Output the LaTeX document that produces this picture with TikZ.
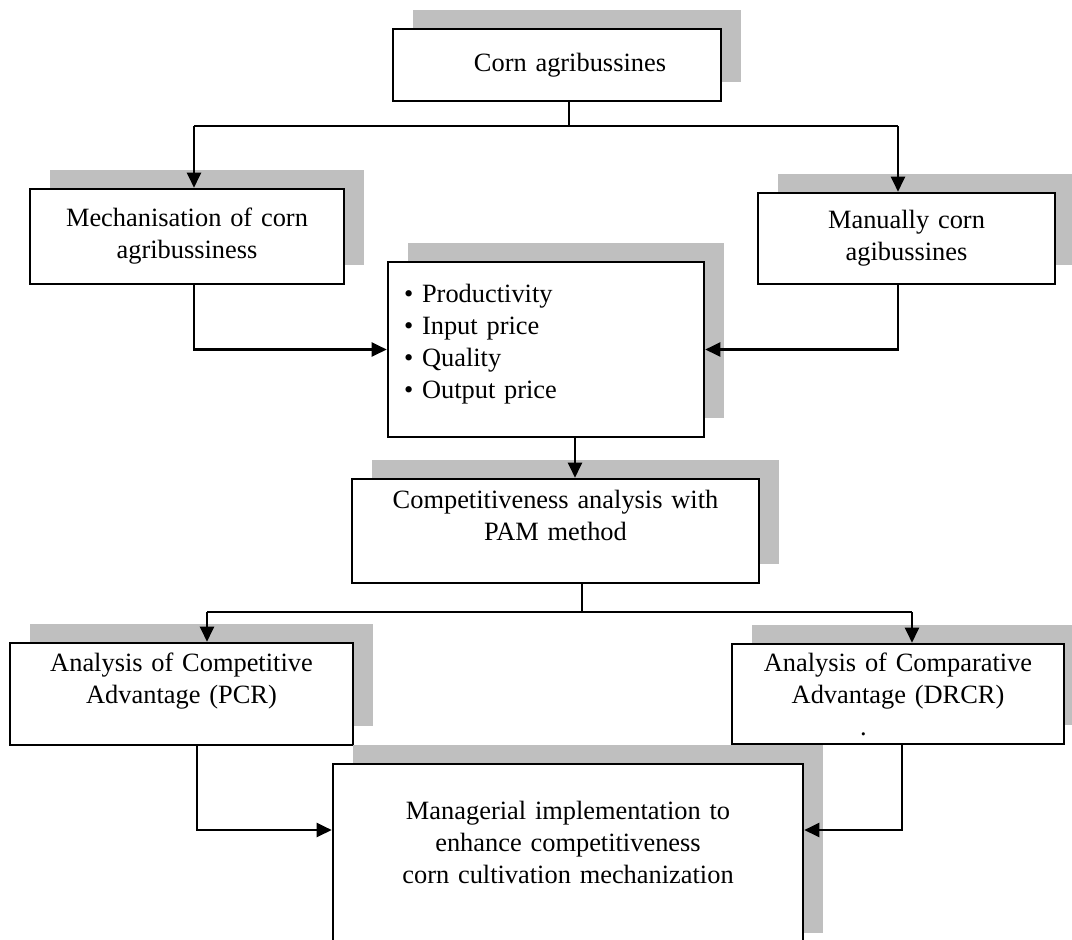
\documentclass[tikz,border=0pt]{standalone}
\usepackage{fontspec}
\setmainfont{Liberation Serif}
\usetikzlibrary{arrows.meta,shadows}

\begin{document}
\begin{tikzpicture}[x=0.5pt,y=-0.5pt,
  box/.style={draw,line width=1.3pt,fill=white,align=center,inner sep=0pt,
    general shadow={shadow xshift=10pt,shadow yshift=9.5pt,fill=black!25},
    font=\fontsize{13.2}{16}\selectfont},
  link/.style={line width=1.1pt},
  arr/.style={link,-{Triangle[length=7.5pt,width=7pt]}}]

\useasboundingbox (0,0) rectangle (1072,939);

% boxes
\node at (557,65) [box,minimum width=164pt,minimum height=36pt,text width=150pt] (corn) {\hspace*{13pt}Corn agribussines};
\node at (187,236.5) [box,minimum width=157pt,minimum height=47.5pt,text width=145pt] (mech) {Mechanisation of corn\\agribussiness};
\node at (906.5,238.5) [box,minimum width=148.5pt,minimum height=45.5pt,text width=138pt] (manual) {Manually corn\\agibussines};
\node at (546,349.5) [box,minimum width=158pt,minimum height=87.5pt,text width=142pt,align=left,text depth=56.6pt] (factors) {\textbullet\ Productivity\\\textbullet\ Input price\\\textbullet\ Quality\\\textbullet\ Output price};
\node at (555.5,531) [box,minimum width=203.5pt,minimum height=52pt,text width=190pt,text depth=32pt] (pam) {Competitiveness analysis with\\PAM method};
\node at (181.5,694) [box,minimum width=171.5pt,minimum height=51pt,text width=160pt,text depth=32pt] (pcr) {Analysis of Competitive\\Advantage (PCR)};
\node at (898,694) [box,minimum width=166pt,minimum height=50pt,text width=155pt] (drcr) {Analysis of Comparative\\Advantage (DRCR)\\\makebox[38pt][l]{.}};
\node at (568,858) [box,minimum width=235pt,minimum height=94pt,text width=220pt,text depth=48pt] (manage) {Managerial implementation to\\enhance competitiveness\\corn cultivation mechanization};

% first split
\coordinate (csplit) at (569,126);
\coordinate (cl) at (194,126);
\coordinate (cr) at (898,126);
\draw[link] (corn.south -| csplit) -- (csplit);
\draw[link] (cl) -- (cr);
\draw[arr] (cl) -- (cl |- mech.north);
\draw[arr] (cr) -- (cr |- manual.north);
\draw[arr] (cl |- mech.south) |- (factors.west);
\draw[arr] (cr |- manual.south) |- (factors.east);

% factors to PAM
\coordinate (fdown) at ([xshift=14.5pt]factors.south);
\draw[arr] (fdown) -- (fdown |- pam.north);

% second split
\coordinate (psplit) at (582,612);
\coordinate (bl) at (207,612);
\coordinate (br) at (912,612);
\draw[link] (pam.south -| psplit) -- (psplit);
\draw[link] (bl) -- (br);
\draw[arr] (bl) -- (bl |- pcr.north);
\draw[arr] (br) -- (br |- drcr.north);

% into managerial box
\coordinate (pl) at (197,830);
\coordinate (pr) at (902,830);
\draw[arr] (pl |- pcr.south) -- (pl) -- (pl -| manage.west);
\draw[arr] (pr |- drcr.south) -- (pr) -- (pr -| manage.east);

\end{tikzpicture}
\end{document}
